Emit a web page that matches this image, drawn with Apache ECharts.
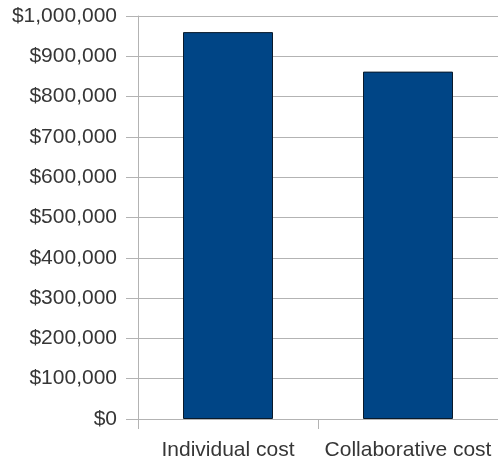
<!DOCTYPE html>
<html>
<head>
<meta charset="utf-8">
<script src="https://cdn.jsdelivr.net/npm/echarts@6/dist/echarts.min.js"></script>
<style>
  html, body { margin: 0; padding: 0; background: #fff; }
  #chart { width: 498px; height: 463px; }
</style>
</head>
<body>
<div id="chart"></div>
<script>
// values
const categories = ['Individual cost', 'Collaborative cost'];
const costs = [960000, 862000];

const gray = '#b3b3b3';
const textColor = '#363636';

const chart = echarts.init(document.getElementById('chart'));

const fmtMoney = (v) => '$' + v.toLocaleString('en-US');

chart.setOption({
  animation: false,
  textStyle: { fontFamily: 'Liberation Sans, Arial, sans-serif' },
  grid: { left: 138, right: 0, top: 16, bottom: 44, containLabel: false },
  xAxis: {
    type: 'category',
    data: categories,
    axisLine: { lineStyle: { color: gray } },
    axisTick: { show: true, length: 10, lineStyle: { color: gray } },
    axisLabel: { color: textColor, fontSize: 21, margin: 21, interval: 0, hideOverlap: false },
  },
  yAxis: {
    type: 'value',
    min: 0,
    max: 1000000,
    interval: 100000,
    axisLine: { show: true, lineStyle: { color: gray } },
    axisTick: { show: true, length: 12, lineStyle: { color: gray } },
    splitLine: { lineStyle: { color: gray } },
    axisLabel: { color: textColor, fontSize: 21, margin: 21, formatter: fmtMoney },
  },
  series: [
    {
      type: 'bar',
      data: costs,
      barWidth: '50%',
      itemStyle: { color: '#004586', borderColor: '#0a1a2a', borderWidth: 1 },
    },
  ],
});
</script>
</body>
</html>
